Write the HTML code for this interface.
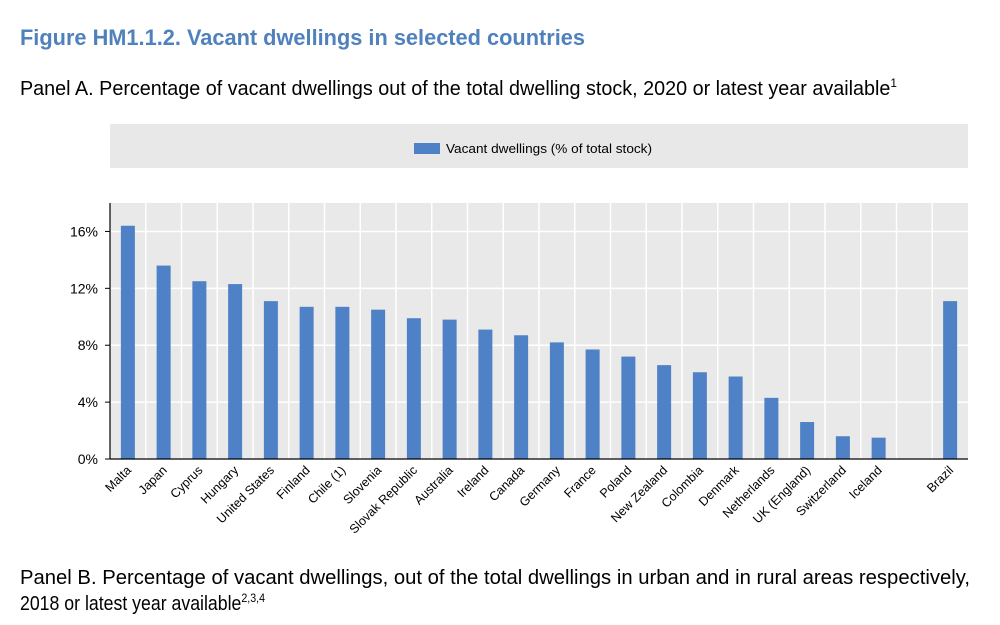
<!DOCTYPE html>
<html><head><meta charset="utf-8"><style>
body{margin:0;background:#fff;width:1000px;height:625px;overflow:hidden}
svg{display:block;font-family:"Liberation Sans",Arial,sans-serif}
</style></head><body>
<svg id="c" width="1000" height="625">
<text x="20" y="45" font-size="22" font-weight="bold" fill="#4f81bd" textLength="565" lengthAdjust="spacingAndGlyphs">Figure HM1.1.2. Vacant dwellings in selected countries</text>
<text x="20" y="95" font-size="20" fill="#000" textLength="877" lengthAdjust="spacingAndGlyphs">Panel A. Percentage of vacant dwellings out of the total dwelling stock, 2020 or latest year available<tspan font-size="12" dy="-8">1</tspan></text>
<g>
<rect x="110" y="124" width="858" height="44" fill="#e8e8e8"/>
<rect x="414" y="143" width="26" height="11" fill="#4f81c6"/>
<text x="446" y="153" font-size="13" textLength="206" lengthAdjust="spacingAndGlyphs">Vacant dwellings (% of total stock)</text>
</g>
<rect x="110" y="203" width="858" height="256" fill="#e9e9e9"/>
<g id="grid"></g><g id="bars"></g><g id="axes"></g>
<text x="20" y="584" font-size="20" textLength="950" lengthAdjust="spacingAndGlyphs">Panel B. Percentage of vacant dwellings, out of the total dwellings in urban and in rural areas respectively,</text>
<text x="20" y="610" font-size="20" textLength="245" lengthAdjust="spacingAndGlyphs">2018 or latest year available<tspan font-size="12" dy="-8">2,3,4</tspan></text>
</svg>
<script>
const categories=["Malta","Japan","Cyprus","Hungary","United States","Finland","Chile (1)","Slovenia","Slovak Republic","Australia","Ireland","Canada","Germany","France","Poland","New Zealand","Colombia","Denmark","Netherlands","UK (England)","Switzerland","Iceland","","Brazil"];
const values=[16.4,13.6,12.5,12.3,11.1,10.7,10.7,10.5,9.9,9.8,9.1,8.7,8.2,7.7,7.2,6.6,6.1,5.8,4.3,2.6,1.6,1.5,null,11.1];
const yTicks=[0,4,8,12,16];
const tickLabels=["0%","4%","8%","12%","16%"];
const yMax=18;
const NS="http://www.w3.org/2000/svg";
const X0=110,X1=968,Y0=459,Y1=203;
const slot=(X1-X0)/categories.length;
const xc=i=>X0+slot*(i+0.5);
const y=v=>Y0-(v/yMax)*(Y0-Y1);
function mk(t,a,p){const e=document.createElementNS(NS,t);for(const k in a)e.setAttribute(k,a[k]);p.appendChild(e);return e;}
const grid=document.getElementById('grid'),bars=document.getElementById('bars'),axes=document.getElementById('axes');
for(let i=1;i<categories.length;i++){const l=mk('line',{x1:X0+slot*i,x2:X0+slot*i,y1:Y1,y2:Y0,stroke:'#fff','stroke-width':1.5},grid);

}
yTicks.forEach((t,i)=>{const yy=y(t);
const g=mk('line',{x1:X0,x2:X1,y1:yy,y2:yy,stroke:'#fff','stroke-width':1.5},grid);


const tk=mk('line',{x1:X0-5,x2:X0,y1:yy,y2:yy,stroke:'#000'},axes);


const tx=mk('text',{x:X0-12,y:yy+5,'text-anchor':'end','font-size':14},axes);tx.textContent=tickLabels[i];

});
values.forEach((v,i)=>{if(v!=null){const r=mk('rect',{x:xc(i)-7,y:y(v),width:14,height:Y0-y(v),fill:'#4f81c6'},bars);

}
if(categories[i]){const t=mk('text',{x:xc(i)+4,y:Y0+12,'text-anchor':'end','font-size':12.5,transform:`rotate(-45 ${xc(i)+4} ${Y0+12})`},axes);t.textContent=categories[i];

}});
const ax=mk('line',{x1:X0,x2:X0,y1:Y1,y2:Y0,stroke:'#000','stroke-width':1.2},axes);


const bx=mk('line',{x1:X0,x2:X1,y1:Y0,y2:Y0,stroke:'#000','stroke-width':1.2},axes);


</script>
</body></html>
